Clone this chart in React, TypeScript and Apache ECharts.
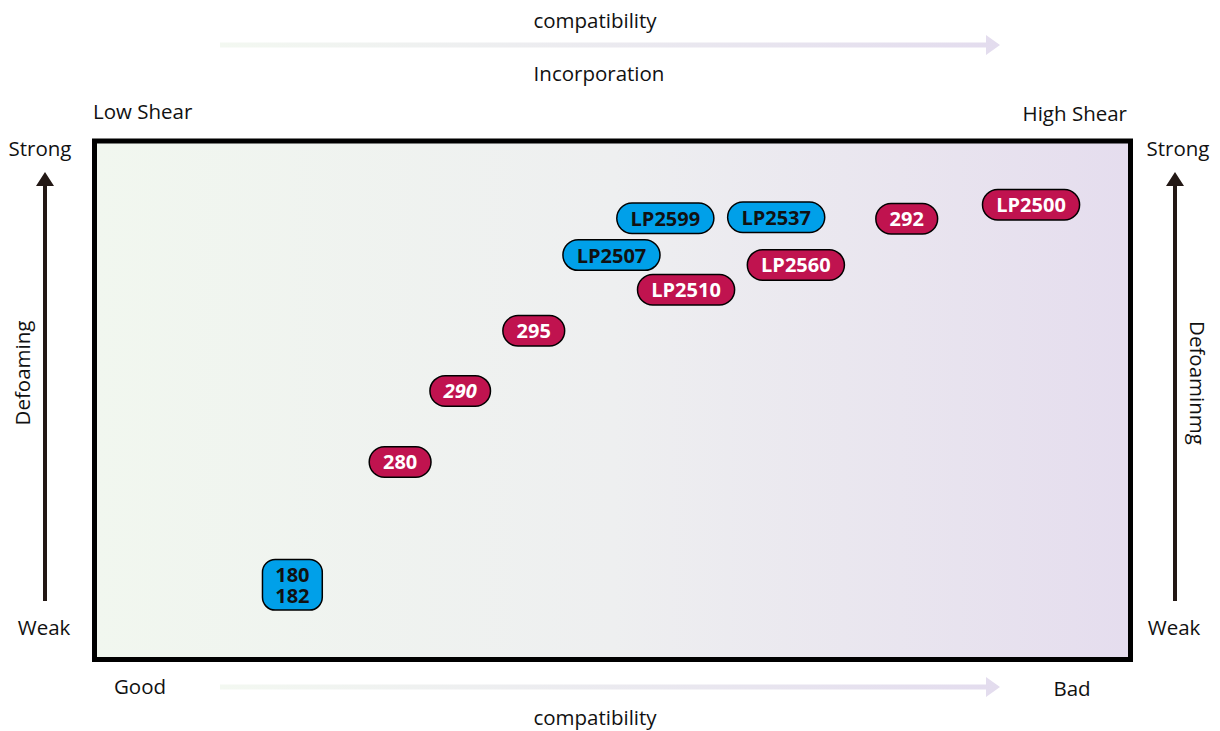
import React, { useEffect, useRef } from "react";
import * as echarts from "echarts";

const names = ["180\n182", "280", "290", "295", "LP2507", "LP2510", "LP2599", "LP2537", "LP2560", "292", "LP2500"];
const compatibility = [19.1, 29.5, 35.3, 42.4, 49.9, 57.1, 55.1, 65.8, 67.7, 78.4, 90.4];
const defoaming = [14.4, 38.1, 51.8, 63.4, 78.0, 71.3, 85.1, 85.3, 76.1, 85.0, 87.7];
const kinds = ["blue", "red", "red", "red", "blue", "red", "blue", "blue", "red", "red", "red"];
const italicNames = ["290"];

const FONT = "Open Sans";
const BLUE = "#00a0e9";
const RED = "#c0134f";

export default function App() {
  const ref = useRef<HTMLDivElement>(null);
  useEffect(() => {
    if (!ref.current) return;
    const chart = echarts.init(ref.current, null, { renderer: "svg" });
    const data = names.map((n, i) => {
      const blue = kinds[i] === "blue";
      const multi = n.includes("\n");
      return {
        value: [compatibility[i], defoaming[i]],
        name: n,
        label: {
          show: true,
          position: "inside",
          formatter: n,
          color: blue ? "#111" : "#fff",
          fontFamily: FONT,
          fontWeight: "bold",
          fontSize: 20,
          fontStyle: italicNames.includes(n) ? "italic" : "normal",
          lineHeight: multi ? 21 : 22,
          backgroundColor: blue ? BLUE : RED,
          borderColor: "#000",
          borderWidth: 1.5,
          borderRadius: multi ? 12 : 15,
          padding: multi ? [4, 12, 3, 12] : [4, 13, 3, 13],
        },
      };
    });
    const hArrow = (y: number) => ({
      type: "polygon",
      shape: {
        points: [
          [220, y - 2.5], [986, y - 2.5], [986, y - 10], [1000, y], [986, y + 10], [986, y + 2.5], [220, y + 2.5],
        ],
      },
      style: {
        fill: new echarts.graphic.LinearGradient(0, 0, 1, 0, [
          { offset: 0, color: "#f3f8f1" },
          { offset: 1, color: "#e3dcee" },
        ]),
      },
    });
    const vArrow = (x: number) => ({
      type: "polygon",
      shape: {
        points: [
          [x - 2, 601], [x - 2, 186], [x - 9, 186], [x, 172], [x + 9, 186], [x + 2, 186], [x + 2, 601],
        ],
      },
      style: { fill: "#231815" },
    });
    const txt = (text: string, x: number, y: number, align = "center", extra: any = {}) => ({
      type: "text",
      x,
      y,
      ...extra,
      style: {
        text,
        x: 0,
        y: 0,
        align,
        verticalAlign: "middle",
        fontFamily: FONT,
        fontSize: 20.5,
        fill: "#111",
      },
    });
    chart.setOption({
      animation: false,
      grid: {
        left: 94.5,
        right: 89.5,
        top: 141,
        bottom: 71.5,
        show: true,
        borderColor: "#000",
        borderWidth: 5,
        backgroundColor: new echarts.graphic.LinearGradient(0, 0, 1, 0, [
          { offset: 0, color: "#f1f7ef" },
          { offset: 0.5, color: "#eeeff0" },
          { offset: 1, color: "#e5ddee" },
        ]),
      },
      xAxis: { type: "value", min: 0, max: 100, show: false },
      yAxis: { type: "value", min: 0, max: 100, show: false },
      graphic: [
        hArrow(45),
        hArrow(687),
        vArrow(45),
        vArrow(1175),
        txt("compatibility", 595, 20),
        txt("Incorporation", 599, 73),
        txt("compatibility", 595, 717),
        txt("Low Shear", 93, 111, "left"),
        txt("High Shear", 1127, 113, "right"),
        txt("Strong", 40, 148),
        txt("Strong", 1178, 148),
        txt("Weak", 44, 627),
        txt("Weak", 1174, 627),
        txt("Good", 140, 686),
        txt("Bad", 1072, 688),
        txt("Defoaming", 22, 373, "center", { rotation: Math.PI / 2 }),
        txt("Defoaminmg", 1198, 383, "center", { rotation: -Math.PI / 2 }),
      ],
      series: [
        {
          type: "scatter",
          symbolSize: 0,
          itemStyle: { opacity: 1 },
          data,
          z: 5,
        },
      ],
    });
    return () => chart.dispose();
  }, []);
  return <div ref={ref} style={{ width: 1220, height: 731, position: "absolute", left: 0, top: 0 }} />;
}
